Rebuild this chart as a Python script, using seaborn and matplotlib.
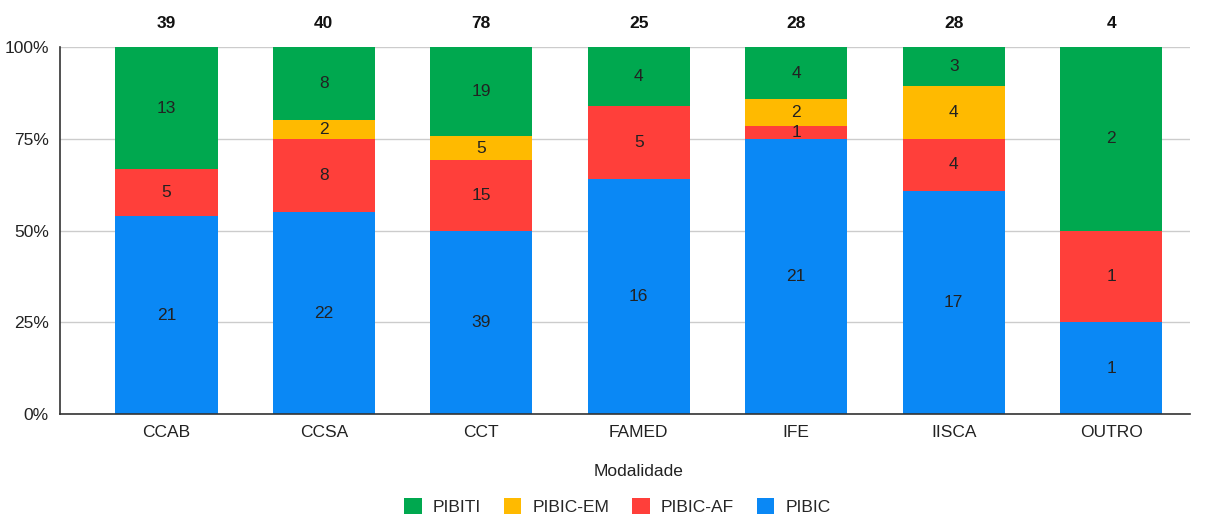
import numpy as np
import pandas as pd
import matplotlib
matplotlib.use("Agg")
import matplotlib.pyplot as plt
import seaborn as sns
from matplotlib.patches import Patch

categories = ["CCAB", "CCSA", "CCT", "FAMED", "IFE", "IISCA", "OUTRO"]
pibic = [21, 22, 39, 16, 21, 17, 1]
pibic_af = [5, 8, 15, 5, 1, 4, 1]
pibic_em = [0, 2, 5, 0, 2, 4, 0]
pibiti = [13, 8, 19, 4, 4, 3, 2]

series_names = ["PIBIC", "PIBIC-AF", "PIBIC-EM", "PIBITI"]
series_vals = [pibic, pibic_af, pibic_em, pibiti]
colors = {"PIBIC": "#0A88F5", "PIBIC-AF": "#FF3F3A", "PIBIC-EM": "#FFBA00", "PIBITI": "#00A84F"}

sns.set_theme(style="white")
plt.rcParams["font.family"] = ["Liberation Sans", "DejaVu Sans"]

FS = 12.5
totals = np.sum(np.array(series_vals), axis=0)

fig = plt.figure(figsize=(12.06, 5.15), dpi=100)
ax = fig.add_axes([0.0498, 0.196, 0.9369, 0.7127])

bottom = np.zeros(len(categories))
for name, vals in zip(series_names, series_vals):
    vals = np.array(vals, dtype=float)
    pct = vals / totals * 100
    df = pd.DataFrame({"cat": categories, "pct": pct})
    sns.barplot(data=df, x="cat", y="pct", color=colors[name], bottom=bottom,
                width=0.65, ax=ax, saturation=1, edgecolor="none", linewidth=0, zorder=3)
    for i, (v, p) in enumerate(zip(vals, pct)):
        if v > 0:
            ax.text(i, bottom[i] + p / 2, f"{int(v)}", ha="center", va="center",
                    fontsize=FS, color="#222222", zorder=4)
    bottom = bottom + pct

for i, t in enumerate(totals):
    ax.text(i, 1.065, f"{int(t)}", transform=ax.get_xaxis_transform(), ha="center",
            va="center", fontsize=FS, fontweight="bold", color="#111111")

ax.set_ylim(0, 100)
ax.set_xlim(-0.675, 6.5)
ax.set_yticks([0, 25, 50, 75, 100])
ax.set_yticklabels(["0%", "25%", "50%", "75%", "100%"], fontsize=FS, color="#222222")
ax.tick_params(axis="x", labelsize=FS, colors="#222222", length=0, pad=8)
ax.tick_params(axis="y", length=0, pad=8)
ax.grid(axis="y", color="#cccccc", linewidth=1, zorder=0)
for s in ["top", "right"]:
    ax.spines[s].set_visible(False)
ax.spines["left"].set_color("#333333")
ax.spines["bottom"].set_color("#333333")
ax.spines["left"].set_linewidth(1.2)
ax.spines["bottom"].set_linewidth(1.2)
ax.spines["left"].set_zorder(5)
ax.spines["bottom"].set_zorder(5)
ax.set_xlabel("Modalidade", fontsize=FS, color="#222222")
ax.xaxis.set_label_coords(0.512, -0.136)
ax.set_ylabel("")

legend_order = ["PIBITI", "PIBIC-EM", "PIBIC-AF", "PIBIC"]
handles = [Patch(facecolor=colors[n], edgecolor="none") for n in legend_order]
fig.legend(handles, legend_order, loc="center", bbox_to_anchor=(0.512, 0.016),
           ncol=4, frameon=False, fontsize=FS, handlelength=1.0, handleheight=1.0,
           columnspacing=1.33, handletextpad=0.63)

fig.savefig("out.png", dpi=100)
